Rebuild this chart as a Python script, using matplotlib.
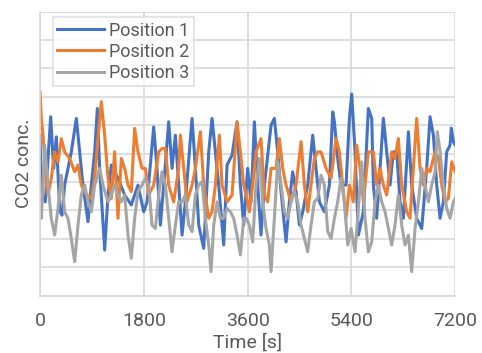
import matplotlib
matplotlib.use("Agg")
import matplotlib.pyplot as plt

# ---- data ----
t1 = [0, 23, 92, 185, 237, 283, 341, 381, 427, 543, 630, 688, 745, 832, 890, 948, 994, 1034, 1121, 1179,
      1237, 1352, 1468, 1583, 1699, 1798, 1856, 1971, 2029, 2087, 2145, 2231, 2289, 2347, 2405, 2463, 2520,
      2636, 2694, 2752, 2838, 2925, 2983, 3041, 3098, 3185, 3243, 3330, 3416, 3474, 3532, 3601, 3659, 3717,
      3774, 3832, 3890, 4006, 4063, 4121, 4179, 4266, 4323, 4381, 4439, 4497, 4555, 4641, 4728, 4786, 4844,
      4930, 5017, 5075, 5104, 5161, 5219, 5306, 5364, 5404, 5462, 5520, 5606, 5693, 5751, 5780, 5837, 5953,
      6011, 6069, 6126, 6184, 6242, 6300, 6387, 6444, 6531, 6618, 6704, 6762, 6820, 6878, 6936, 6993, 7051,
      7109, 7130, 7167, 7200]
p1 = [5.65, 3.6, 3.3, 6.30, 4.48, 5.59, 3.0, 2.83, 3.89, 5.06, 6.24, 5.06, 3.89, 2.60, 3.89, 5.06, 6.59, 4.48, 1.60, 3.54,
      4.60, 4.13, 3.54, 3.19, 3.89, 2.95, 3.30, 5.94, 4.48, 2.48, 3.89, 6.12, 4.48, 5.65, 3.89, 2.13, 3.30,
      6.24, 4.48, 2.48, 1.66, 5.06, 6.24, 5.06, 3.89, 1.78, 4.60, 4.95, 6.12, 3.89, 2.48, 4.48, 3.30, 6.12,
      3.89, 2.13, 3.89, 6.00, 6.24, 5.06, 3.66, 1.89, 3.30, 4.36, 3.66, 2.48, 2.95, 3.89, 5.65, 4.48, 3.30,
      2.95, 3.89, 6.47, 6.12, 4.83, 3.89, 3.89, 6.24, 7.10, 5.06, 2.13, 2.95, 6.59, 6.24, 3.89, 2.72, 6.24,
      5.06, 3.89, 5.06, 5.06, 3.30, 2.72, 5.77, 3.89, 2.72, 2.36, 4.48, 6.30, 5.65, 3.89, 2.72, 3.30, 5.06,
      5.30, 5.90, 5.42, 5.30]

t2 = [0, 23, 52, 110, 138, 196, 254, 312, 370, 427, 514, 601, 659, 716, 803, 890, 948, 1005, 1063, 1121,
      1179, 1237, 1294, 1352, 1410, 1468, 1526, 1583, 1641, 1699, 1769, 1827, 1885, 1971, 2058, 2116, 2174,
      2231, 2318, 2405, 2434, 2492, 2549, 2636, 2694, 2781, 2838, 2925, 2983, 3041, 3110, 3156, 3243, 3330,
      3416, 3474, 3532, 3601, 3630, 3688, 3745, 3832, 3890, 3948, 4006, 4092, 4150, 4208, 4266, 4352, 4439,
      4526, 4584, 4641, 4699, 4757, 4815, 4873, 4959, 5046, 5133, 5190, 5248, 5306, 5364, 5433, 5491, 5548,
      5606, 5693, 5780, 5837, 5895, 5953, 6011, 6098, 6155, 6213, 6271, 6358, 6415, 6473, 6531, 6589, 6647,
      6704, 6762, 6849, 6907, 6965, 7022, 7080, 7138, 7196]
p2 = [7.18, 6.24, 5.65, 3.89, 3.54, 4.13, 5.06, 4.71, 5.53, 5.06, 4.83, 4.36, 4.60, 3.89, 3.54, 3.42, 4.13, 5.53, 6.83, 5.65,
      4.13, 3.42, 5.06, 2.72, 4.83, 4.48, 3.89, 3.66, 5.89, 5.06, 4.48, 4.48, 3.54, 3.89, 5.06, 5.18, 5.18,
      3.89, 3.30, 4.48, 5.65, 4.48, 3.30, 3.89, 4.48, 5.77, 3.89, 2.72, 2.95, 3.89, 5.65, 3.89, 3.30, 3.54,
      6.12, 5.06, 3.89, 3.30, 2.95, 3.89, 5.06, 5.53, 3.54, 3.30, 4.48, 4.48, 5.53, 4.48, 3.89, 3.30, 3.89,
      5.42, 3.89, 2.95, 3.89, 4.83, 5.06, 5.06, 4.48, 4.13, 5.53, 5.06, 3.89, 2.72, 3.89, 3.30, 5.30, 4.48,
      3.30, 5.06, 5.06, 3.89, 4.48, 3.89, 3.54, 5.06, 4.83, 5.53, 3.89, 2.95, 2.72, 4.48, 6.24, 4.48, 3.89,
      4.48, 4.36, 5.06, 4.83, 3.89, 3.30, 3.42, 4.71, 4.36]

t3 = [0, 23, 81, 138, 196, 254, 312, 370, 427, 485, 543, 601, 659, 716, 774, 832, 890, 948, 1034, 1092,
      1179, 1237, 1294, 1352, 1410, 1468, 1526, 1583, 1641, 1699, 1769, 1827, 1885, 1942, 2000, 2058, 2116,
      2174, 2231, 2289, 2347, 2405, 2463, 2520, 2578, 2636, 2694, 2752, 2809, 2867, 2925, 2965, 3012, 3070,
      3127, 3185, 3243, 3301, 3358, 3416, 3474, 3532, 3572, 3630, 3688, 3745, 3803, 3861, 3919, 3977, 4006,
      4063, 4121, 4179, 4237, 4295, 4352, 4410, 4468, 4526, 4584, 4641, 4699, 4757, 4815, 4873, 4930, 4988,
      5046, 5104, 5161, 5219, 5277, 5335, 5393, 5433, 5462, 5520, 5577, 5635, 5693, 5751, 5809, 5866, 5924,
      5982, 6040, 6098, 6155, 6213, 6271, 6329, 6387, 6444, 6502, 6560, 6618, 6676, 6733, 6791, 6849, 6889,
      6936, 6993, 7051, 7109, 7167, 7200]
p3 = [3.54, 2.72, 5.30, 3.89, 2.72, 2.13, 3.07, 4.24, 2.95, 2.72, 2.01, 1.19, 2.48, 3.54, 3.89, 3.30, 2.95, 3.89, 4.48, 3.89,
      3.30, 3.54, 3.89, 3.54, 3.30, 3.54, 2.13, 1.31, 2.72, 3.66, 3.89, 4.13, 3.89, 2.48, 2.36, 3.54, 4.36,
      3.89, 2.72, 1.54, 2.48, 3.30, 3.30, 3.54, 2.48, 2.25, 3.54, 3.89, 4.01, 2.72, 1.78, 0.84, 2.48, 3.30,
      2.72, 2.72, 3.07, 2.95, 2.72, 2.13, 1.43, 2.72, 2.72, 2.48, 1.89, 3.89, 4.83, 3.30, 2.36, 1.78, 0.84,
      2.72, 4.71, 3.89, 2.95, 2.72, 3.30, 3.66, 3.30, 2.48, 2.01, 1.54, 2.48, 3.30, 3.42, 4.24, 3.89, 2.25,
      2.01, 2.72, 3.30, 4.13, 3.30, 1.78, 2.36, 1.89, 1.54, 3.07, 4.71, 2.72, 1.54, 1.89, 3.30, 3.89, 3.30,
      2.95, 2.36, 1.78, 2.48, 3.54, 2.48, 1.78, 2.13, 0.84, 2.36, 3.30, 4.48, 3.89, 3.30, 3.89, 4.36, 5.77,
      5.06, 3.89, 3.07, 2.72, 3.30, 3.42]

labels = ["Position 1", "Position 2", "Position 3"]
x_ticks = [0, 1800, 3600, 5400, 7200]
colors = ["#4472C4", "#ED7D31", "#A5A5A5"]

# ---- figure ----
plt.rcParams['font.family'] = ['Roboto', 'DejaVu Sans']
txt = "#595959"
grid = "#D9D9D9"

fig = plt.figure(figsize=(4.82, 3.53), dpi=100)
ax = fig.add_axes([40 / 482, 1 - 295.5 / 353, 415.3 / 482, 283.8 / 353])

for t, p, lab, c in zip([t1, t2, t3], [p1, p2, p3], labels, colors):
    ax.plot(t, p, color=c, lw=2.2, label=lab, solid_joinstyle='round')

ax.set_xlim(0, 7200)
ax.set_ylim(0, 10)
ax.set_xticks(x_ticks)
ax.set_xticklabels([str(v) for v in x_ticks])
ax.set_yticks(range(0, 11))
ax.set_yticklabels([])
ax.grid(True, color=grid, lw=1.2)
ax.set_axisbelow(True)
ax.tick_params(length=0, labelsize=14, colors=txt, pad=12)
for s in ['top', 'right']:
    ax.spines[s].set_visible(False)
for s in ['left', 'bottom']:
    ax.spines[s].set_color(grid)
    ax.spines[s].set_linewidth(1.2)

ax.set_xlabel("Time [s]", fontsize=14, color=txt)
ax.xaxis.set_label_coords(0.5, -0.133)
ax.set_ylabel("CO2 conc.", fontsize=14, color=txt)
ax.yaxis.set_label_coords(-0.017, 0.467)

leg = ax.legend(loc='upper left', bbox_to_anchor=(12.5 / 415.3, 1 - 5.5 / 283.8),
                frameon=True, fancybox=False, handlelength=2.6,
                handletextpad=0.3, labelspacing=0.17, borderpad=0.25, borderaxespad=0,
                prop={'size': 13})
leg.get_frame().set_edgecolor(grid)
leg.get_frame().set_linewidth(1.2)
for tx in leg.get_texts():
    tx.set_color(txt)

fig.savefig("out.png", dpi=100)
